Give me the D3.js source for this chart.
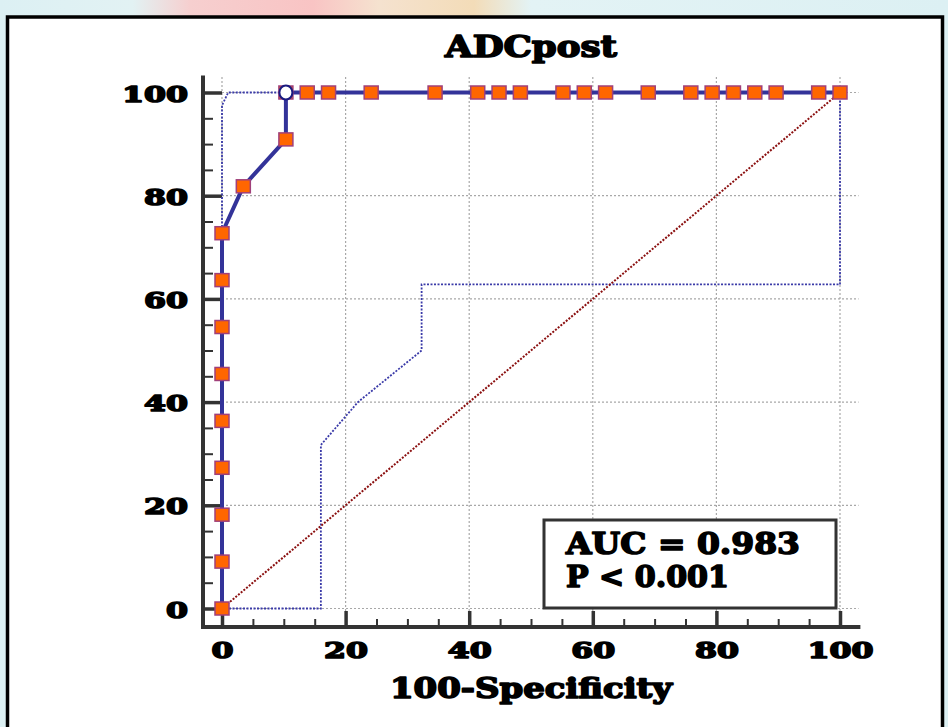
<!DOCTYPE html>
<html>
<head>
<meta charset="utf-8">
<script src="https://cdn.jsdelivr.net/npm/d3@7"></script>
<style>
  html, body { margin: 0; padding: 0; }
  body { width: 948px; height: 727px; overflow: hidden; }
  .heavy { font-family: "DejaVu Serif", serif; font-weight: bold; fill: #000; stroke: #000; stroke-width: 1.6; stroke-linejoin: round; }
</style>
</head>
<body>
<div id="chart"></div>
<script>
// ROC curve points (100-Specificity, Sensitivity)
var rocX = [0, 0, 0, 0, 0, 0, 0, 0, 0, 3.45, 10.34, 10.34, 13.79, 17.24, 24.14, 34.48, 41.38, 44.83, 48.28,
            55.17, 58.62, 62.07, 68.97, 75.86, 79.31, 82.76, 86.21, 89.66, 96.55, 100];
var rocY = [0, 9.09, 18.18, 27.27, 36.36, 45.45, 54.55, 63.64, 72.73, 81.82, 90.91, 100, 100, 100, 100, 100, 100, 100, 100,
            100, 100, 100, 100, 100, 100, 100, 100, 100, 100, 100];
// confidence bounds
var upperX = [0, 0, 1, 10.34];
var upperY = [0, 97.5, 100, 100];
var lowerX = [0, 16, 16, 22, 32.3, 32.3, 100, 100];
var lowerY = [0, 0, 31.7, 40, 50, 62.8, 62.8, 100];
// optimal cut-off
var cutX = 10.34, cutY = 100;
var majorTicks = [0, 20, 40, 60, 80, 100];
var minorTicks = d3.range(0, 101, 5).filter(function(v) { return v % 20 !== 0; });
var titleText = "ADCpost";
var xTitle = "100-Specificity";
var statLines = ["AUC = 0.983", "P < 0.001"];

var width = 948, height = 727;

var svg = d3.select("#chart").append("svg")
    .attr("width", width)
    .attr("height", height);

// blurred photo background behind the frame
var defs = svg.append("defs");
var bg = defs.append("linearGradient").attr("id", "bgGrad").attr("x1", 0).attr("x2", 1).attr("y1", 0).attr("y2", 0);
[[0, "#dcf0f3"], [0.14, "#e2f2f3"], [0.2, "#f6cfcf"], [0.33, "#f9c4c4"], [0.4, "#f5e2cf"], [0.5, "#f3dcb8"],
 [0.56, "#e3f3f5"], [1, "#dcf0f3"]].forEach(function(s) {
    bg.append("stop").attr("offset", s[0]).attr("stop-color", s[1]);
});
svg.append("rect").attr("width", width).attr("height", height).attr("fill", "url(#bgGrad)");

// white card
svg.append("rect")
    .attr("x", 7.5).attr("y", 17)
    .attr("width", 935).attr("height", 730)
    .attr("fill", "#fff")
    .attr("stroke", "#000")
    .attr("stroke-width", 3.5);

var x = d3.scaleLinear().domain([0, 100]).range([222, 840]);
var y = d3.scaleLinear().domain([0, 100]).range([608.5, 92.5]);

var axisX0 = 203, axisY0 = 627;

// grid
var grid = svg.append("g").attr("stroke", "#a8a8a8").attr("stroke-width", 1.2).attr("stroke-dasharray", "2,2");
grid.selectAll(".h").data(majorTicks).enter().append("line")
    .attr("x1", x(0)).attr("x2", x(103))
    .attr("y1", function(d) { return y(d); }).attr("y2", function(d) { return y(d); });
grid.selectAll(".v").data(majorTicks).enter().append("line")
    .attr("y1", y(103)).attr("y2", axisY0)
    .attr("x1", function(d) { return x(d); }).attr("x2", function(d) { return x(d); });

// axes
var yMajor = d3.axisLeft(y).tickValues(majorTicks).tickSizeInner(-(x(0) - axisX0)).tickSizeOuter(0).tickPadding(15);
var yMinor = d3.axisLeft(y).tickValues(minorTicks).tickSizeInner(-10).tickSizeOuter(0).tickFormat("");
var xMajor = d3.axisBottom(x).tickValues(majorTicks).tickSizeInner(-16).tickSizeOuter(0);
var xMinor = d3.axisBottom(x).tickValues(minorTicks).tickSizeInner(-8).tickSizeOuter(0).tickFormat("");

function styleAxis(g, w) {
    g.select(".domain").remove();
    g.selectAll(".tick line").attr("stroke", "#333").attr("stroke-width", w);
}

svg.append("g").attr("transform", "translate(" + axisX0 + ",0)").call(yMinor).call(styleAxis, 2);
var gy = svg.append("g").attr("transform", "translate(" + axisX0 + ",0)").call(yMajor).call(styleAxis, 3.5);
svg.append("g").attr("transform", "translate(0," + axisY0 + ")").call(xMinor).call(styleAxis, 2);
var gx = svg.append("g").attr("transform", "translate(0," + axisY0 + ")").call(xMajor).call(styleAxis, 3.5);

gy.selectAll(".tick text")
    .attr("class", "heavy")
    .attr("font-size", 23)
    .attr("dy", 8.5)
    .attr("textLength", function(d) { return String(d).length * 22; })
    .attr("lengthAdjust", "spacingAndGlyphs");
gx.selectAll(".tick text")
    .attr("class", "heavy")
    .attr("font-size", 23)
    .attr("y", 31).attr("dy", 0)
    .attr("textLength", function(d) { return String(d).length * 22; })
    .attr("lengthAdjust", "spacingAndGlyphs");

// axis lines
svg.append("line").attr("x1", axisX0).attr("x2", axisX0).attr("y1", y(103.3)).attr("y2", axisY0 + 2)
    .attr("stroke", "#333").attr("stroke-width", 4);
svg.append("line").attr("x1", axisX0 - 2).attr("x2", x(103.3)).attr("y1", axisY0).attr("y2", axisY0)
    .attr("stroke", "#333").attr("stroke-width", 4);

// confidence bounds
var line = d3.line().x(function(d) { return x(d[0]); }).y(function(d) { return y(d[1]); });
svg.append("path").datum(d3.zip(lowerX, lowerY)).attr("d", line)
    .attr("fill", "none").attr("stroke", "#3a3aa8").attr("stroke-width", 1.8).attr("stroke-dasharray", "2,1.5");
svg.append("path").datum(d3.zip(upperX, upperY)).attr("d", line)
    .attr("fill", "none").attr("stroke", "#3a3aa8").attr("stroke-width", 1.8).attr("stroke-dasharray", "2,1.5");

// reference diagonal
svg.append("path").datum([[0, 0], [100, 100]]).attr("d", line)
    .attr("fill", "none").attr("stroke", "#8b1010").attr("stroke-width", 2).attr("stroke-dasharray", "2,1.5");

// ROC curve
var roc = d3.zip(rocX, rocY);
svg.append("path").datum(roc).attr("d", line)
    .attr("fill", "none").attr("stroke", "#333399").attr("stroke-width", 4).attr("stroke-linejoin", "round");

svg.selectAll(".pt").data(roc).enter().append("rect")
    .attr("x", function(d) { return x(d[0]) - 7; })
    .attr("y", function(d) { return y(d[1]) - 6.5; })
    .attr("width", 14).attr("height", 13)
    .attr("fill", "#ff6600")
    .attr("stroke", "#a0407a")
    .attr("stroke-width", 1.5);

svg.append("ellipse")
    .attr("cx", x(cutX)).attr("cy", y(cutY))
    .attr("rx", 6.5).attr("ry", 7)
    .attr("fill", "#fff").attr("stroke", "#1a1a80").attr("stroke-width", 2);

// stats box
svg.append("rect")
    .attr("x", 544).attr("y", 520).attr("width", 292).attr("height", 88)
    .attr("fill", "#fff").attr("stroke", "#333").attr("stroke-width", 3);
var statLen = [234, 163];
svg.selectAll(".stat").data(statLines).enter().append("text")
    .attr("class", "heavy")
    .attr("x", 566)
    .attr("y", function(d, i) { return 554 + i * 33; })
    .attr("font-size", 30)
    .attr("textLength", function(d, i) { return statLen[i]; })
    .attr("lengthAdjust", "spacingAndGlyphs")
    .text(function(d) { return d; });

// titles
svg.append("text").attr("class", "heavy")
    .attr("x", 531).attr("y", 57)
    .attr("text-anchor", "middle")
    .attr("font-size", 29)
    .attr("textLength", 172).attr("lengthAdjust", "spacingAndGlyphs")
    .text(titleText);

svg.append("text").attr("class", "heavy")
    .attr("x", 531).attr("y", 698)
    .attr("text-anchor", "middle")
    .attr("font-size", 27)
    .attr("textLength", 282).attr("lengthAdjust", "spacingAndGlyphs")
    .text(xTitle);
</script>
</body>
</html>
